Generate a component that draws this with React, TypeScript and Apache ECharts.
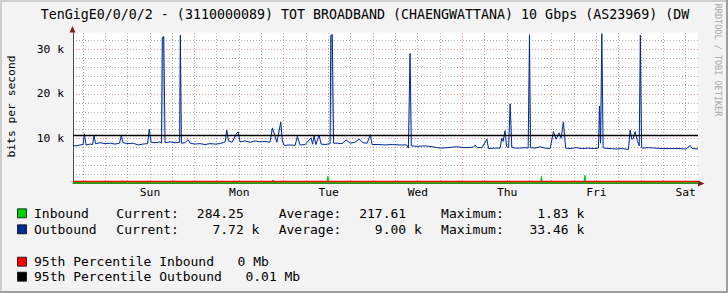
import React, { useEffect, useRef } from 'react';
import * as echarts from 'echarts';

// ---------- data ----------
const titleText = 'TenGigE0/0/0/2 - (3110000089) TOT BROADBAND (CHAENGWATTANA) 10 Gbps (AS23969) (DW';
const dayLabels = ['Sun', 'Mon', 'Tue', 'Wed', 'Thu', 'Fri', 'Sat'];
const dayLabelHours = [12, 36, 60, 84, 108, 132, 156]; // noon of each day, hours from Sun 00:00
const axisStartHour = -8.7;
const axisEndHour = 159.3;
const yMaxK = 33.7; // kbit/s

// Outbound (kbit/s), hours from Sun 00:00
const outHours = [
  -8.7, -7.9, -6.8, -6.0, -5.65, -5.2, -4.1, -3.45, -3.05, -2.65, -1.4, -0.1, 1.3, 2.6, 3.8, 4.3, 4.75,
  6.1, 7.45, 8.8, 10.1, 11.35, 11.8, 12.3, 13.4, 14.7, 15.1, 15.3, 15.7, 16.05, 17.4, 18.7, 19.95, 20.15,
  20.45, 21.4, 22.25, 22.8, 24.1, 25.45, 26.8, 28.15, 29.5, 30.8, 32.2, 32.65, 33.1, 34.05, 35.3, 35.7,
  36.2, 37.55, 38.9, 40.25, 41.6, 42.9, 44.25, 44.9, 45.35, 46.1, 47.15, 47.6, 48.1, 49.65, 51.0, 51.6,
  52.35, 53.7, 55.3, 55.7, 56.1, 56.6, 57.45, 58.0, 59.05, 60.4, 60.6, 61.0, 61.35, 62.3, 63.6, 64.7,
  65.8, 67.1, 68.2, 69.3, 70.35, 71.25, 71.7, 73.3, 75.2, 77.1, 79.2, 81.0, 81.45, 81.9, 82.25, 84.05,
  85.95, 87.8, 90.0, 92.1, 94.3, 96.7, 98.9, 99.4, 99.9, 101.25, 102.55, 103.0, 104.75, 106.1, 106.55,
  106.9, 107.45, 107.85, 108.4, 108.8, 109.25, 110.15, 111.5, 112.8, 113.65, 114.0, 114.3, 115.5, 116.85,
  118.2, 119.55, 120.45, 121.15, 121.95, 122.5, 123.1, 123.75, 124.9, 126.55, 128.15, 129.75, 131.4,
  132.55, 132.8, 133.1, 133.45, 133.8, 134.05, 135.7, 137.3, 138.9, 140.6, 141.05, 141.5, 141.85, 142.4,
  143.0, 143.5, 143.8, 144.15, 144.35, 145.9, 147.75, 149.65, 151.8, 153.95, 156.1, 157.2, 157.7, 159.3,
];
const outValues = [
  8.5, 8.4, 8.6, 8.7, 11.1, 8.6, 8.8, 8.7, 10.7, 8.9, 9.1, 8.9, 9.0, 8.8, 9.0, 10.7, 9.1,
  8.9, 9.0, 8.6, 8.8, 8.9, 12.1, 9.2, 9.1, 9.3, 9.0, 32.6, 32.8, 9.1, 9.3, 9.1, 9.2, 33.1,
  9.0, 9.1, 9.8, 9.0, 8.8, 8.9, 8.7, 8.9, 8.8, 8.9, 9.3, 11.9, 9.5, 9.2, 11.2, 11.5,
  9.3, 9.5, 9.2, 9.5, 9.3, 9.4, 9.2, 12.4, 11.3, 9.2, 13.7, 9.5, 8.5, 8.6, 8.5, 10.5,
  8.6, 8.7, 10.2, 8.8, 10.6, 8.7, 10.8, 8.8, 8.7, 8.9, 33.1, 33.2, 9.0, 9.0, 8.9, 9.7,
  9.0, 9.2, 9.9, 9.1, 9.0, 10.9, 8.7, 8.7, 8.6, 8.7, 8.6, 8.6, 7.9, 29.0, 8.4, 8.3,
  8.4, 8.2, 7.9, 8.0, 8.2, 8.0, 8.1, 8.6, 8.0, 8.0, 9.9, 7.8, 7.9, 7.9, 10.1,
  9.4, 11.8, 8.2, 8.0, 17.8, 8.1, 7.9, 7.9, 8.0, 7.9, 33.1, 8.0, 7.9, 8.2,
  7.9, 7.8, 11.6, 9.9, 11.3, 10.1, 13.7, 7.9, 7.8, 8.0, 7.8, 7.9, 7.8,
  7.9, 17.3, 9.0, 33.46, 8.0, 7.9, 7.8, 7.7, 7.8, 7.6, 11.9, 9.9, 10.0, 11.6,
  9.6, 8.4, 33.1, 8.0, 7.9, 8.0, 7.9, 7.8, 7.8, 7.8, 7.7, 8.5, 7.8, 7.72,
];

// Inbound (kbit/s)
const inHours = [
  -8.7, -8.4, -7.0, -6.8, 1.0, 1.1, 2.1, 2.2, 4.1, 4.2, 5.0, 5.1, 9.3, 9.4, 12.5, 12.6, 17.9, 18.0,
  19.3, 19.4, 20.2, 20.3, 22.1, 22.2, 29.5, 29.6, 30.4, 30.5, 34.2, 34.3, 35.3, 35.4, 42.4, 42.5,
  44.8, 45.1, 45.4, 46.7, 46.8, 55.5, 55.6, 56.4, 56.5, 59.5, 59.8, 60.1, 61.2, 61.4, 65.7, 65.8,
  66.1, 66.2, 91.2, 91.3, 92.1, 92.2, 94.6, 94.8, 95.0, 109.4, 109.6, 109.8, 110.6, 110.8, 111.0,
  111.9, 112.1, 112.3, 117.0, 117.2, 117.5, 127.2, 127.4, 127.6, 128.6, 128.9, 129.2, 130.0, 130.2,
  130.4, 139.5, 139.7, 139.9, 159.3,
];
const inValues = [
  0.2, 0.45, 0.45, 0.2, 0.2, 0.45, 0.45, 0.2, 0.2, 0.5, 0.5, 0.2, 0.2, 0.4, 0.4, 0.2, 0.2, 0.5,
  0.5, 0.2, 0.2, 0.45, 0.45, 0.2, 0.2, 0.4, 0.4, 0.2, 0.2, 0.5, 0.5, 0.2, 0.2, 0.4,
  0.45, 0.8, 0.4, 0.4, 0.2, 0.2, 0.4, 0.4, 0.2, 0.2, 1.6, 0.4, 0.5, 0.2, 0.2, 0.5,
  0.5, 0.2, 0.2, 0.4, 0.4, 0.2, 0.2, 0.6, 0.2, 0.2, 0.5, 0.2, 0.2, 0.5, 0.2,
  0.2, 0.5, 0.2, 0.2, 1.6, 0.2, 0.2, 0.5, 0.2, 0.2, 1.83, 0.2, 0.2, 0.5,
  0.2, 0.2, 0.5, 0.2, 0.28,
];

const pct95InK = 0.6;
const pct95OutK = 10.8;

const statLabels = ['Current:', 'Average:', 'Maximum:'];
const inboundStats = ['284.25', '217.61', '1.83'];
const inboundUnits = ['', '', 'k'];
const outboundStats = ['7.72', '9.00', '33.46'];
const outboundUnits = ['k', 'k', 'k'];
const pctRows = ['95th Percentile Inbound', '95th Percentile Outbound'];
const pctValues = ['0 Mb', '0.01 Mb'];

// ---------- styling ----------
const MONO = '"DejaVu Sans Mono", monospace';
const BG = '#F3F3F3';
const C_IN = '#00CF00';
const C_OUT = '#002A97';
const C_GRID = 'rgba(143,143,143,0.75)';
const C_MGRID = 'rgba(222,79,79,0.6)';
const C_ARROW = '#801F1F';
const C_AXIS = '#505050';
const LEG_FS = 13;
const CHAR_W = 7.83;

const GRID_L = 73;
const GRID_R = 30;
const GRID_T = 32.5;
const GRID_B = 109.5;
const W = 728;
const H = 293;

function text(str: string, x: number, y: number, size: number, extra: any = {}) {
  return {
    type: 'text',
    x,
    y,
    silent: true,
    rotation: extra.rotation || 0,
    style: {
      text: str,
      font: `${size}px ${MONO}`,
      fill: extra.fill || '#000',
      textAlign: extra.align || 'left',
      textVerticalAlign: 'middle',
    },
  };
}

function box(color: string, y: number) {
  return {
    type: 'rect',
    silent: true,
    shape: { x: 17.5, y: y - 4.5, width: 9, height: 9 },
    style: { fill: color, stroke: 'rgba(0,0,0,0.75)', lineWidth: 1 },
  };
}

export default function App() {
  const ref = useRef<HTMLDivElement>(null);

  useEffect(() => {
    if (!ref.current) return;
    const chart = echarts.init(ref.current, undefined, { renderer: 'svg' });

    const outData = outHours.map((h, i) => [h, outValues[i]]);
    const inData = inHours.map((h, i) => [h, inValues[i]]);

    const rowY = [213.3, 229.3, 261.7, 276.7];
    const labelX = [116.3, 278.7, 441.1];
    const g: any[] = [];
    // plot canvas (white), underneath everything
    g.push({
      type: 'rect', silent: true, z: -100,
      shape: { x: GRID_L, y: GRID_T, width: W - GRID_L - GRID_R, height: H - GRID_T - GRID_B },
      style: { fill: '#FFFFFF' },
    });
    // frame shading
    g.push({ type: 'rect', silent: true, shape: { x: 0, y: 0, width: W, height: 2 }, style: { fill: '#CFCFCF' } });
    g.push({ type: 'rect', silent: true, shape: { x: 0, y: 0, width: 2, height: H }, style: { fill: '#CFCFCF' } });
    g.push({ type: 'rect', silent: true, shape: { x: W - 2, y: 0, width: 2, height: H }, style: { fill: '#9E9E9E' } });
    g.push({ type: 'rect', silent: true, shape: { x: 0, y: H - 2, width: W, height: 2 }, style: { fill: '#9E9E9E' } });

    g.push(text(titleText, 365, 14, 13.3, { align: 'center' }));
    g.push(text('bits per second', 11.5, 106.5, 11.3, { align: 'center', rotation: Math.PI / 2 }));
    g.push(text('RRDTOOL / TOBI OETIKER', 717.5, 60, 8.5, { align: 'center', rotation: -Math.PI / 2, fill: '#A8A8A8' }));

    // arrows
    const axisX = GRID_L - 0.5;
    const axisY = H - GRID_B;
    g.push({ type: 'polygon', silent: true, shape: { points: [[axisX - 3, GRID_T], [axisX + 3, GRID_T], [axisX, GRID_T - 6.5]] }, style: { fill: C_ARROW } });
    const rx = W - GRID_R;
    g.push({ type: 'polygon', silent: true, shape: { points: [[rx, axisY - 3], [rx, axisY + 3], [rx + 6.5, axisY]] }, style: { fill: C_ARROW } });

    const rows = [
      { name: 'Inbound', color: C_IN, stats: inboundStats, units: inboundUnits },
      { name: 'Outbound', color: C_OUT, stats: outboundStats, units: outboundUnits },
    ];
    rows.forEach((r, ri) => {
      const y = rowY[ri];
      g.push(box(r.color, y));
      g.push(text(r.name, 34, y, LEG_FS));
      statLabels.forEach((lab, si) => {
        g.push(text(lab, labelX[si], y, LEG_FS));
        const fieldStart = labelX[si] + 8 * CHAR_W + 2.2;
        const num = r.stats[si];
        const vx = fieldStart + (8 - num.length) * CHAR_W;
        g.push(text(r.units[si] ? `${num} ${r.units[si]}` : num, vx, y, LEG_FS));
      });
    });
    const pctColors = ['#FF0000', '#000000'];
    pctRows.forEach((name, i) => {
      const y = rowY[2 + i];
      g.push(box(pctColors[i], y));
      g.push(text(name, 34, y, LEG_FS));
      g.push(text(pctValues[i], 34 + (name.length + 3) * CHAR_W, y, LEG_FS));
    });

    const option: any = {
      animation: false,
      backgroundColor: BG,
      grid: {
        left: GRID_L,
        right: GRID_R,
        top: GRID_T,
        bottom: GRID_B,
        show: false,
        borderWidth: 0,
      },
      xAxis: {
        type: 'value',
        min: axisStartHour,
        max: axisEndHour,
        axisLine: { show: true, onZero: false, lineStyle: { color: C_AXIS, width: 1 } },
        axisTick: { show: false },
        splitLine: { show: false },
        axisLabel: {
          customValues: dayLabelHours,
          formatter: (v: number) => {
            const i = dayLabelHours.indexOf(Math.round(v));
            return i >= 0 ? dayLabels[i] : '';
          },
          color: '#000',
          fontFamily: MONO,
          fontSize: 11.3,
          margin: 3,
        },
      },
      yAxis: {
        type: 'value',
        min: 0,
        max: yMaxK,
        interval: 2,
        axisLine: { show: true, onZero: false, lineStyle: { color: C_AXIS, width: 1 } },
        axisTick: { show: false },
        axisLabel: {
          formatter: (v: number) => (v > 0 && Math.abs(v % 10) < 1e-6 ? `${v} k` : ''),
          color: '#000',
          fontFamily: MONO,
          fontSize: 11.3,
          margin: 9,
        },
        splitLine: {
          show: true,
          showMaxLine: false,
          lineStyle: { color: [C_MGRID, C_GRID, C_GRID, C_GRID, C_GRID], type: [1, 2], width: 1 },
        },
      },
      series: [
        {
          name: 'Outbound',
          type: 'line',
          data: outData,
          z: 3,
          silent: true,
          showSymbol: false,
          symbol: 'none',
          lineStyle: { color: C_OUT, width: 1 },
          areaStyle: {
            origin: 7.6,
            color: new echarts.graphic.LinearGradient(0, 0, 0, 1, [
              { offset: 0, color: 'rgba(0,42,151,0.7)' },
              { offset: 0.5, color: 'rgba(0,42,151,0.4)' },
              { offset: 0.9, color: 'rgba(0,42,151,0.1)' },
              { offset: 1, color: 'rgba(0,42,151,0)' },
            ]),
          },
          markLine: {
            silent: true,
            symbol: 'none',
            label: { show: false },
            data: [{ yAxis: pct95OutK }],
            lineStyle: { color: '#000000', type: 'solid', width: 1.3 },
          },
        },
        {
          name: 'Inbound',
          type: 'line',
          data: inData,
          z: 4,
          silent: true,
          showSymbol: false,
          symbol: 'none',
          lineStyle: { color: C_IN, width: 1 },
          areaStyle: { color: C_IN, opacity: 1 },
          markLine: {
            silent: true,
            symbol: 'none',
            label: { show: false },
            data: [{ yAxis: pct95InK }],
            lineStyle: { color: '#FF0000', type: 'solid', width: 1.3 },
          },
        },
      ],
    };

    chart.setOption(option);

    // vertical grid (every 6h minor, every 24h major), positioned through the x axis scale
    const topPx = chart.convertToPixel({ yAxisIndex: 0 }, yMaxK) as number;
    const botPx = chart.convertToPixel({ yAxisIndex: 0 }, 0) as number;
    for (let h = Math.ceil(axisStartHour / 6) * 6; h <= axisEndHour; h += 6) {
      const px = Math.floor(chart.convertToPixel({ xAxisIndex: 0 }, h) as number);
      const color = h % 24 === 0 ? C_MGRID : C_GRID;
      const dots: any[] = [];
      for (let y = Math.ceil(topPx); y < botPx - 1; y += 3) {
        dots.push({ type: 'rect', silent: true, shape: { x: 0, y, width: 1, height: 1 }, style: { fill: color } });
      }
      g.push({ type: 'group', x: px, y: 0, z: -50, silent: true, children: dots });
    }

    chart.setOption({ graphic: g });
    return () => chart.dispose();
  }, []);

  return (
    <div
      ref={ref}
      style={{ position: 'absolute', left: 0, top: 0, width: W, height: H, background: BG }}
    />
  );
}
